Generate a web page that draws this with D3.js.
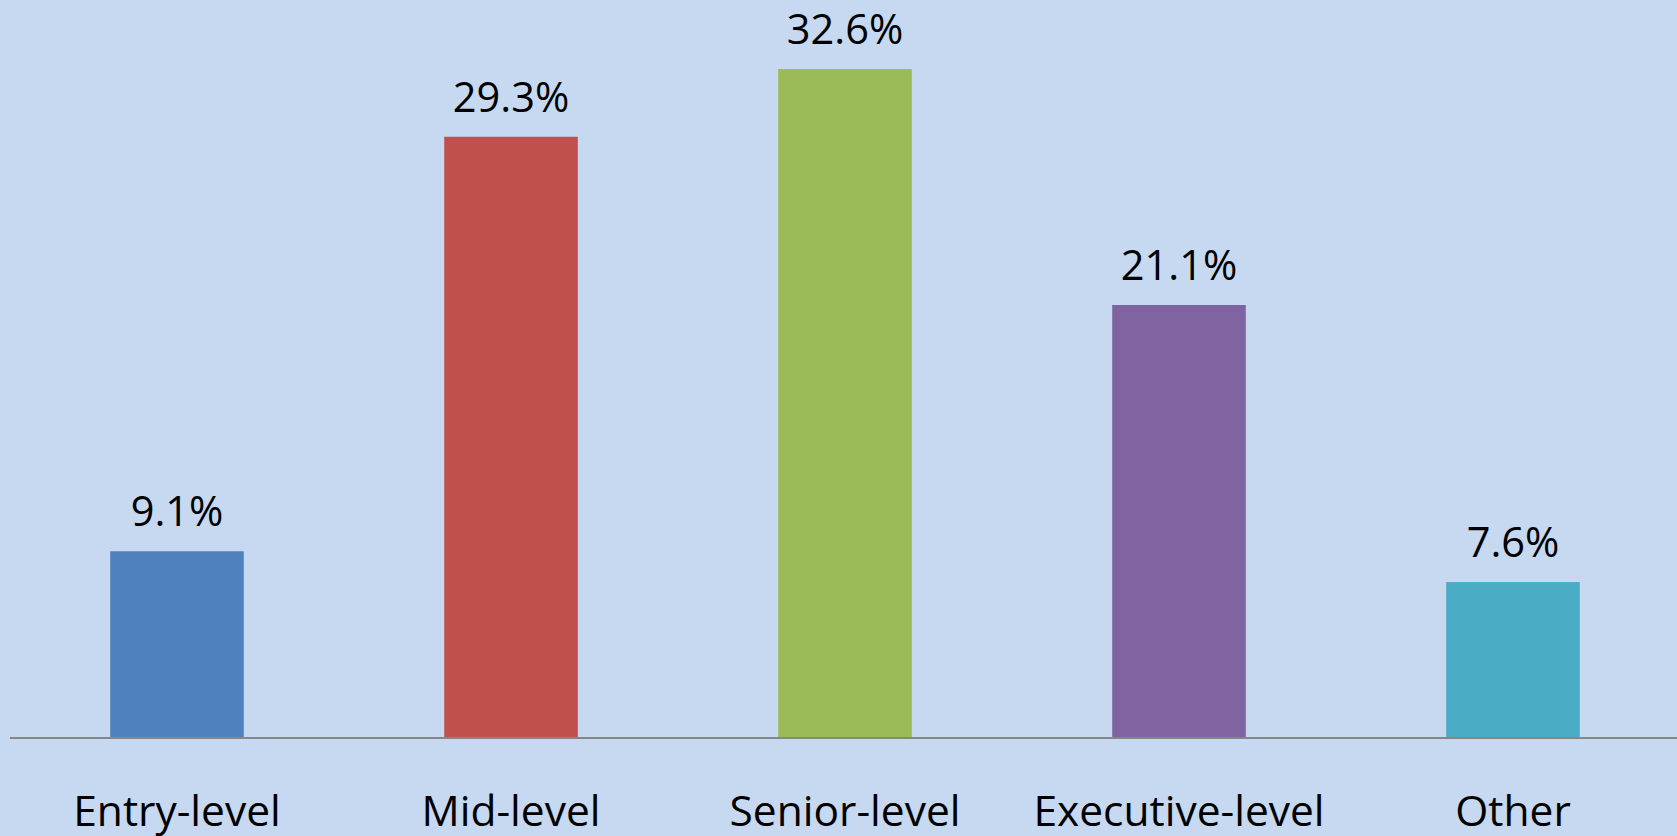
<!DOCTYPE html>
<html>
<head>
<meta charset="utf-8">
<script src="https://cdn.jsdelivr.net/npm/d3@7"></script>
<style>
html,body{margin:0;padding:0;background:#C6D9F0;}
svg{display:block;}
</style>
</head>
<body>
<svg id="chart" width="1677" height="836"></svg>
<script>
const categories = ["Entry-level", "Mid-level", "Senior-level", "Executive-level", "Other"];
const values = [9.1, 29.3, 32.6, 21.1, 7.6];
const valueLabels = ["9.1%", "29.3%", "32.6%", "21.1%", "7.6%"];
const colors = ["#4F81BD", "#C0504D", "#9BBB59", "#8064A2", "#4BACC6"];

const W = 1677, H = 836;
const baseY = 738;
const svg = d3.select("#chart");
svg.append("rect").attr("width", W).attr("height", H).attr("fill", "#C6D9F0");

const x = d3.scaleBand().domain(categories).range([10, 1680]).paddingInner(0.6).paddingOuter(0.3);
const y = d3.scaleLinear().domain([0, 35]).range([baseY, baseY - 35 * 20.52]);

const data = categories.map((c, i) => ({c, v: values[i], label: valueLabels[i], color: colors[i]}));

svg.selectAll("rect.bar").data(data).join("rect")
  .attr("class", "bar")
  .attr("x", d => x(d.c))
  .attr("y", d => y(d.v))
  .attr("width", x.bandwidth())
  .attr("height", d => y(0) - y(d.v))
  .attr("fill", d => d.color);

svg.selectAll("text.val").data(data).join("text")
  .attr("class", "val")
  .attr("x", d => x(d.c) + x.bandwidth() / 2)
  .attr("y", d => y(d.v) - 25)
  .attr("text-anchor", "middle")
  .attr("font-family", "Open Sans")
  .attr("font-size", 41.5)
  .attr("fill", "#000")
  .text(d => d.label);

const xAxis = d3.axisBottom(x).tickSize(0).tickPadding(0);
const g = svg.append("g").attr("transform", `translate(0,${baseY})`).call(xAxis);
g.select(".domain").remove();
g.selectAll("text")
  .attr("y", 88)
  .attr("dy", 0)
  .attr("font-family", "Open Sans")
  .attr("font-size", 42.5)
  .attr("fill", "#000");

svg.append("line")
  .attr("x1", 10).attr("x2", W)
  .attr("y1", y(0)).attr("y2", y(0))
  .attr("stroke", "#868686").attr("stroke-width", 2);
</script>
</body>
</html>
